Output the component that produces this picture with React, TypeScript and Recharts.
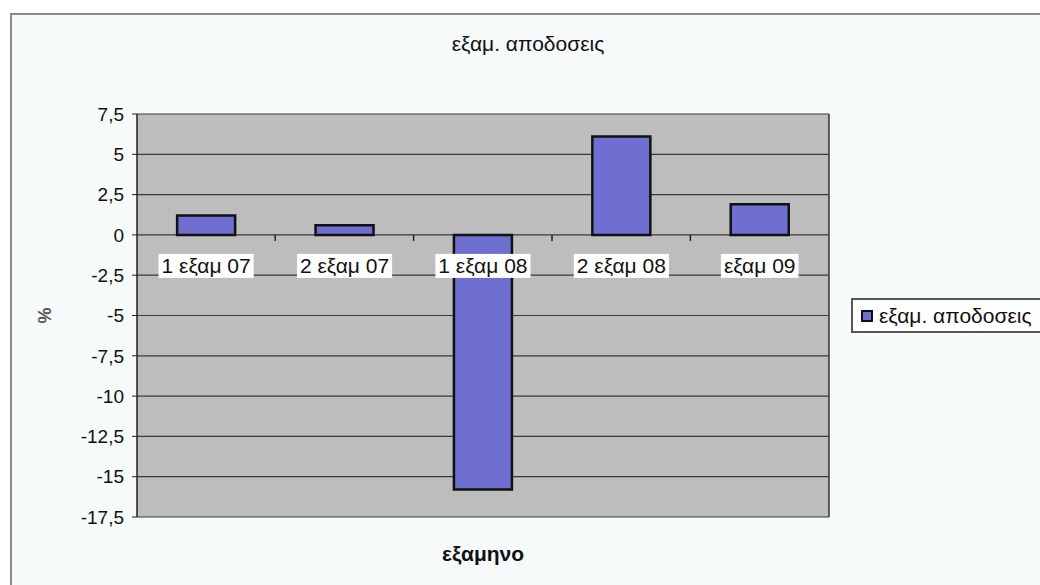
import React from "react";
import {
  BarChart,
  Bar,
  XAxis,
  YAxis,
  CartesianGrid,
  LabelList,
} from "recharts";

const categories = ["1 εξαμ 07", "2 εξαμ 07", "1 εξαμ 08", "2 εξαμ 08", "εξαμ 09"];
const returns = [1.2, 0.6, -15.8, 6.1, 1.9];
const yTicks = [-17.5, -15, -12.5, -10, -7.5, -5, -2.5, 0, 2.5, 5, 7.5];

const seriesName = "εξαμ. αποδοσεις";
const chartTitle = "εξαμ. αποδοσεις";
const xTitle = "εξαμηνο";
const yTitle = "%";

const data = categories.map((name, i) => ({ name, value: returns[i] }));

const FONT = '"Liberation Sans", Arial, sans-serif';
const BAR_FILL = "#6f6fd0";
const BAR_RATIO = 0.42;

let measureCtx: CanvasRenderingContext2D | null = null;
function textWidth(s: string, font: string) {
  if (!measureCtx) measureCtx = document.createElement("canvas").getContext("2d");
  if (!measureCtx) return s.length * 10;
  measureCtx.font = font;
  return measureCtx.measureText(s).width;
}

// category label sits just under the zero line, on a white box, with a tick at the category boundary
function CategoryLabel(props: any) {
  const vb = props.viewBox ?? props;
  const x = Number(vb.x ?? props.x);
  const y = Number(vb.y ?? props.y);
  const w = Number(vb.width ?? props.width);
  const h = Number(vb.height ?? props.height);
  const index = props.index;
  const value = returns[index];
  const base = value >= 0 ? Math.max(y, y + h) : Math.min(y, y + h);
  const cx = x + w / 2;
  const band = w / BAR_RATIO;
  const label = categories[index];
  const tw = textWidth(label, `21px ${FONT}`);
  const ly = base + 31;
  return (
    <g>
      {index < categories.length - 1 && (
        <line x1={cx + band / 2} x2={cx + band / 2} y1={base} y2={base + 6} stroke="#222" strokeWidth={1.5} />
      )}
      <rect x={cx - tw / 2 - 3} y={ly - 12} width={tw + 6} height={24} fill="#ffffff" />
      <text
        x={cx}
        y={ly}
        textAnchor="middle"
        dominantBaseline="central"
        fontSize={21}
        fontFamily={FONT}
        fill="#111"
      >
        {label}
      </text>
    </g>
  );
}

function LegendBox() {
  return (
    <div
      style={{
        position: "absolute",
        left: 851,
        top: 298,
        border: "2px solid #555",
        background: "#ffffff",
        height: 31,
        width: 210,
        display: "flex",
        alignItems: "center",
        fontFamily: FONT,
        fontSize: 21,
        color: "#111",
        whiteSpace: "nowrap",
      }}
    >
      <span
        style={{
          display: "inline-block",
          width: 8,
          height: 8,
          background: BAR_FILL,
          border: "2px solid #111",
          marginLeft: 8,
          marginRight: 6,
        }}
      />
      {seriesName}
    </div>
  );
}

export default function App() {
  return (
    <div
      style={{
        position: "absolute",
        left: 0,
        top: 0,
        width: 1040,
        height: 585,
        background: "#ffffff",
        overflow: "hidden",
      }}
    >
      <div
        style={{
          position: "absolute",
          left: 10,
          top: 13,
          width: 1040,
          height: 585,
          borderTop: "2px solid #8a8a8a",
          borderLeft: "2px solid #8a8a8a",
          background: "#f6fafa",
        }}
      />
      <div
        style={{
          position: "absolute",
          left: 0,
          width: 1040,
          top: 32,
          textAlign: "center",
          fontFamily: FONT,
          fontSize: 21,
          color: "#111",
          paddingLeft: 16,
          boxSizing: "border-box",
        }}
      >
        {chartTitle}
      </div>
      <div
        style={{
          position: "absolute",
          left: 37,
          top: 305,
          fontFamily: FONT,
          fontSize: 18,
          fontWeight: "bold",
          color: "#555",
          transform: "rotate(-90deg)",
        }}
      >
        {yTitle}
      </div>
      <div
        style={{
          position: "absolute",
          left: 137,
          width: 692,
          top: 542,
          textAlign: "center",
          fontFamily: FONT,
          fontSize: 21,
          fontWeight: "bold",
          color: "#111",
        }}
      >
        {xTitle}
      </div>
      <BarChart
        width={1040}
        height={585}
        data={data}
        margin={{ top: 114, right: 210, bottom: 68, left: 0 }}
        barCategoryGap="29%"
        style={{ position: "absolute", left: 0, top: 0 }}
      >
        <CartesianGrid fill="#bdbdbd" fillOpacity={1} vertical={false} stroke="#3a3a3a" strokeWidth={1.2} />
        <XAxis dataKey="name" hide />
        <YAxis
          width={137}
          domain={[-17.5, 7.5]}
          ticks={yTicks}
          interval={0}
          tickFormatter={(v: number) => String(v).replace(".", ",")}
          tick={{ fontSize: 19, fill: "#111", fontFamily: FONT }}
          tickSize={5}
          tickMargin={8}
          tickLine={{ stroke: "#222" }}
          axisLine={{ stroke: "#222", strokeWidth: 1.5 }}
        />
        <YAxis
          yAxisId="right"
          orientation="right"
          width={1}
          domain={[-17.5, 7.5]}
          tick={false}
          tickLine={false}
          axisLine={{ stroke: "#333", strokeWidth: 1.5 }}
        />
        <Bar dataKey="value" name={seriesName} fill={BAR_FILL} stroke="#111" strokeWidth={2.5} isAnimationActive={false}>
          <LabelList dataKey="value" content={(p: any) => <CategoryLabel {...p} />} />
        </Bar>
      </BarChart>
      <LegendBox />
    </div>
  );
}
